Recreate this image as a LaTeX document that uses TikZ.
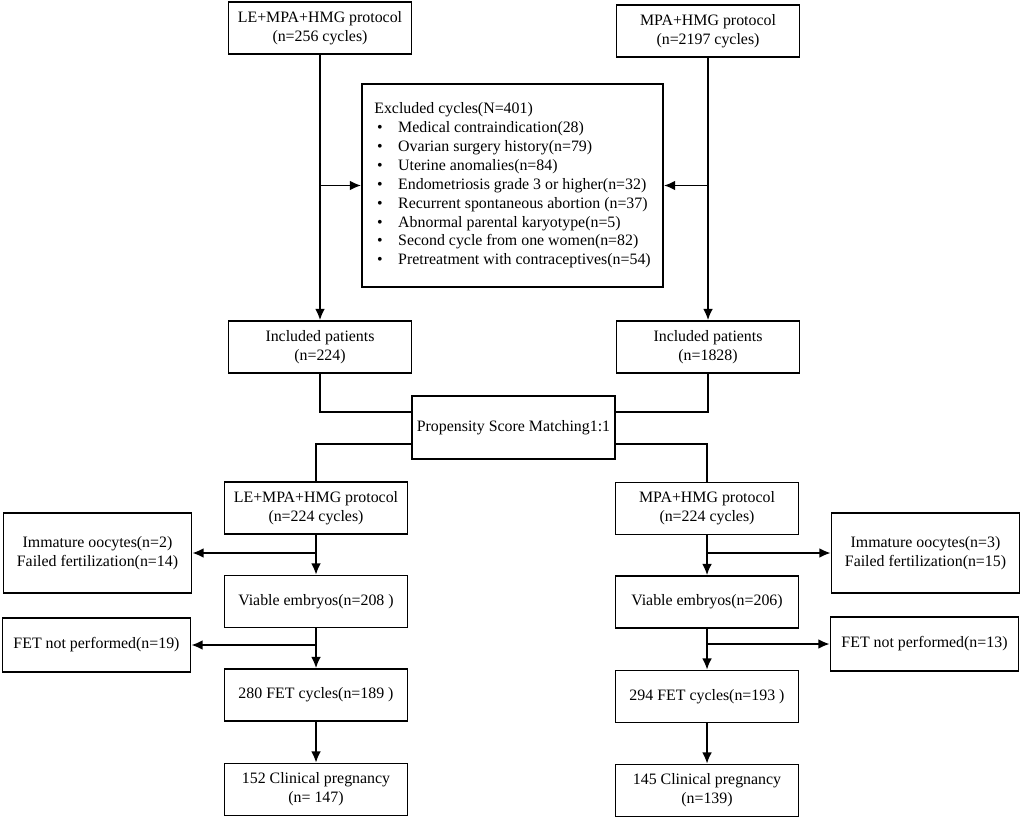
\documentclass[tikz,border=0pt]{standalone}
\usepackage{fontspec}
\setmainfont{Liberation Serif}
\usetikzlibrary{arrows.meta}
\newcommand{\exbullet}{\hspace*{2pt}\makebox[15pt][l]{\textbullet}}
\begin{document}
\begin{tikzpicture}[>={Latex[length=8pt,width=7pt]}, x=.025cm, y=-.025cm, line width=1.25pt,
  box/.style={draw, align=center, minimum width=4.575cm, minimum height=1.3cm, inner sep=2pt, font=\fontsize{11.3}{13.4}\selectfont},
  side/.style={box, minimum width=4.7cm}]
\useasboundingbox (0,0) rectangle (1024,820);
% top of the chart
\node[box] (le) at (320,28) {LE+MPA+HMG protocol\\(n=256 cycles)};
\node[box] (mpa) at (708,31) {MPA+HMG protocol\\(n=2197 cycles)};
\node[box, align=left, minimum width=7.525cm, minimum height=5.075cm] (excl) at (512.5,185.5) {Excluded cycles(N=401)\\
 \exbullet Medical contraindication(28)\\
 \exbullet Ovarian surgery history(n=79)\\
 \exbullet Uterine anomalies(n=84)\\
 \exbullet Endometriosis grade 3 or higher(n=32)\\
 \exbullet Recurrent spontaneous abortion (n=37)\\
 \exbullet Abnormal parental karyotype(n=5)\\
 \exbullet Second cycle from one women(n=82)\\
 \exbullet Pretreatment with contraceptives(n=54)};
\node[box] (inl) at (320,347) {Included patients\\(n=224)};
\node[box] (inr) at (708,347) {Included patients\\(n=1828)};
\node[box, minimum width=5.075cm, minimum height=1.575cm] (psm) at (513.5,427.5) {Propensity Score Matching1:1};
\draw[->] (le.south) -- (inl.north);
\draw[->] (mpa.south) -- (inr.north);
\draw[->] (le.south |- excl.west) -- (excl.west);
\draw[->] (mpa.south |- excl.east) -- (excl.east);
\draw (inl.south) |- ([yshift=-.43cm]psm.north west);
\draw (inr.south) |- ([yshift=-.43cm]psm.north east);
% matched groups
\node[box] (le2) at (316,508) {LE+MPA+HMG protocol\\(n=224 cycles)};
\node[box] (mpa2) at (707,508.5) {MPA+HMG protocol\\(n=224 cycles)};
\draw ([yshift=.4cm]psm.south west) -| (le2.north);
\draw ([yshift=.4cm]psm.south east) -| (mpa2.north);
\node[side, minimum height=2cm] (imml) at (97.5,553) {Immature oocytes(n=2)\\Failed fertilization(n=14)};
\node[side, minimum height=2cm] (immr) at (925.5,553) {Immature oocytes(n=3)\\Failed fertilization(n=15)};
\node[box] (vial) at (316,601.5) {Viable embryos(n=208 )};
\node[box] (viar) at (707,602) {Viable embryos(n=206)};
\node[side, minimum height=1.35cm] (fetnl) at (96.5,645) {FET not performed(n=19)};
\node[side, minimum height=1.35cm] (fetnr) at (924.5,644) {FET not performed(n=13)};
\node[box] (fetl) at (316,695) {280 FET cycles(n=189 )};
\node[box] (fetr) at (707,696.5) {294 FET cycles(n=193 )};
\node[box] (cpl) at (316,789.5) {152 Clinical pregnancy\\(n= 147)};
\node[box] (cpr) at (707,790.5) {145 Clinical pregnancy\\(n=139)};
\draw[->] (le2.south) -- (vial.north);
\draw[->] (le2.south |- imml.east) -- (imml.east);
\draw[->] (mpa2.south) -- (viar.north);
\draw[->] (mpa2.south |- immr.west) -- (immr.west);
\draw[->] (vial.south) -- (fetl.north);
\draw[->] (vial.south |- fetnl.east) -- (fetnl.east);
\draw[->] (viar.south) -- (fetr.north);
\draw[->] (viar.south |- fetnr.west) -- (fetnr.west);
\draw[->] (fetl.south) -- (cpl.north);
\draw[->] (fetr.south) -- (cpr.north);

\end{tikzpicture}
\end{document}
